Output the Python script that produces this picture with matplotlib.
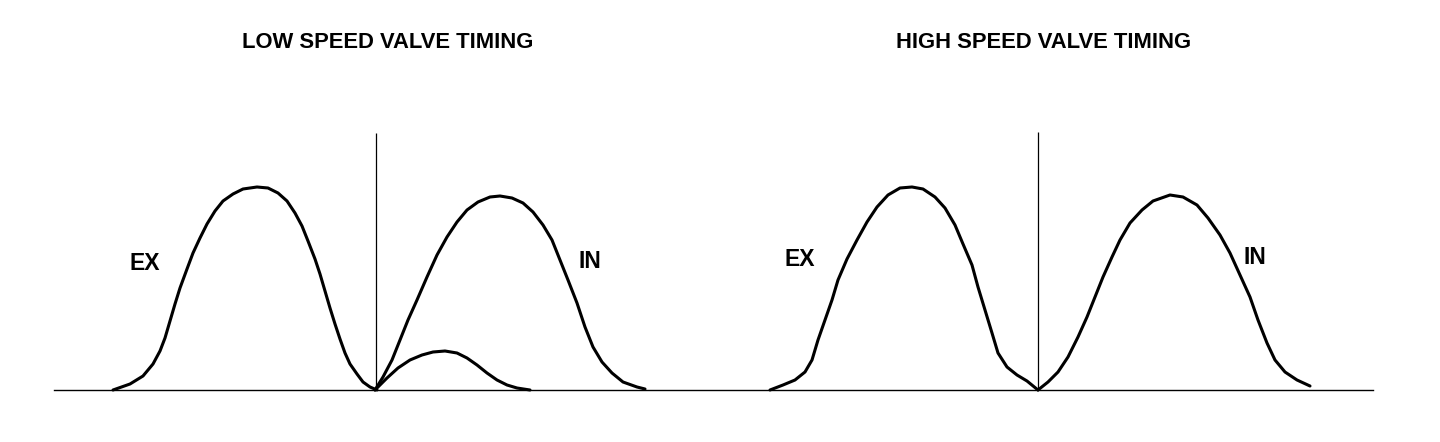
import numpy as np
from matplotlib import pyplot as plt

# x position along the time axis, lift above the base line
low_ex_x = [113, 130, 143, 153, 160, 165, 170, 175, 180, 187, 193, 200, 207, 215, 223, 233, 243, 257,
            268, 278, 287, 295, 302, 308, 315, 320, 325, 330, 335, 340, 345, 350, 357, 363, 370, 377]
low_ex_lift = [0, 6, 14, 26, 39, 52, 69, 86, 102, 121, 137, 152, 166, 179, 189, 196, 201, 203,
               202, 197, 189, 177, 164, 149, 131, 116, 99, 82, 66, 51, 37, 26, 16, 8, 3, 0]

low_in_x = [375, 383, 392, 400, 408, 417, 427, 437, 447, 457, 467, 478, 490, 500, 512, 523, 533, 543,
            552, 560, 568, 577, 585, 593, 602, 612, 623, 637, 645]
low_in_lift = [0, 13, 30, 50, 70, 90, 113, 135, 153, 168, 180, 188, 193, 194, 192, 187, 178, 165,
               150, 130, 110, 87, 63, 43, 28, 17, 8, 3, 1]

low_in2_x = [375, 387, 398, 410, 422, 433, 445, 457, 467, 477, 487, 497, 507, 517, 530]
low_in2_lift = [0, 12, 22, 30, 35, 38, 39, 37, 32, 25, 17, 10, 5, 2, 0]

high_ex_x = [770, 783, 795, 805, 812, 818, 825, 832, 838, 847, 857, 867, 877, 888, 900, 912, 923,
             935, 945, 955, 963, 972, 978, 985, 992, 998, 1007, 1017, 1027, 1038]
high_ex_lift = [0, 5, 10, 18, 30, 50, 70, 90, 110, 131, 150, 168, 183, 195, 202, 203, 201,
                193, 182, 165, 146, 125, 103, 80, 57, 37, 23, 15, 9, 0]

high_in_x = [1038, 1048, 1058, 1068, 1078, 1087, 1095, 1103, 1112, 1120, 1130, 1142, 1153, 1170,
             1183, 1197, 1208, 1220, 1230, 1240, 1250, 1258, 1267, 1275, 1285, 1297, 1310]
high_in_lift = [0, 8, 18, 33, 53, 73, 93, 113, 133, 150, 167, 180, 189, 195,
                193, 185, 172, 155, 137, 115, 93, 70, 47, 30, 18, 10, 4]

base_x = [54, 1373]
tdc_x = [375.5, 1038]
tdc_top = [257, 258]

titles = ['LOW SPEED VALVE TIMING', 'HIGH SPEED VALVE TIMING']
title_x = [388, 1044]
labels = ['EX', 'IN', 'EX', 'IN']
label_x = [145, 590, 800, 1255]
label_y = [127, 128, 130, 132]

plt.rcParams['font.family'] = ['Liberation Sans', 'DejaVu Sans']

fig = plt.figure(figsize=(14.4, 4.42), dpi=100)
ax = fig.add_axes([0, 0, 1, 1])
ax.set_xlim(0, 1440)
ax.set_ylim(-52, 390)
ax.axis('off')

ax.plot(base_x, [0, 0], color='black', lw=1.0)
ax.vlines(tdc_x, 0, tdc_top, color='black', lw=0.9)

for xs, ys in [(low_ex_x, low_ex_lift), (low_in_x, low_in_lift), (low_in2_x, low_in2_lift),
               (high_ex_x, high_ex_lift), (high_in_x, high_in_lift)]:
    ax.plot(xs, ys, color='black', lw=2.2, solid_joinstyle='round', solid_capstyle='round')

for t, x in zip(titles, title_x):
    ax.text(x, 347, t, ha='center', va='center', fontsize=15.8, fontweight='bold')

for t, x, y in zip(labels, label_x, label_y):
    ax.text(x, y, t, ha='center', va='center', fontsize=16.5, fontweight='bold')

fig.savefig('out.png', dpi=100)
